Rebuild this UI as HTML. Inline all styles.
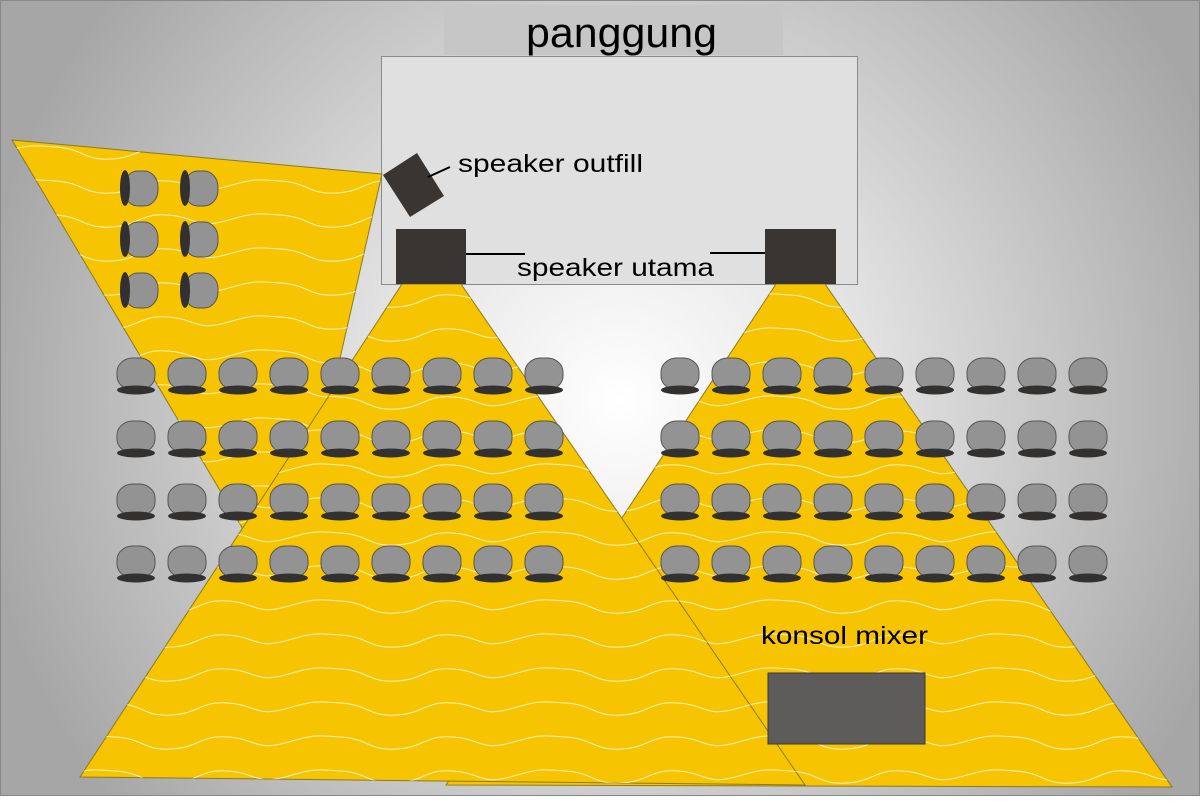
<!DOCTYPE html>
<html><head><meta charset="utf-8"><style>
html,body{margin:0;padding:0;}
body{width:1200px;height:796px;overflow:hidden;}
svg text{font-family:"Liberation Sans",sans-serif;fill:#000;}
</style></head><body>
<svg width="1200" height="796" viewBox="0 0 1200 796" xmlns="http://www.w3.org/2000/svg">
<defs>
<radialGradient id="bg" cx="620" cy="400" r="650" gradientUnits="userSpaceOnUse">
<stop offset="0" stop-color="#ffffff"/>
<stop offset="0.35" stop-color="#e6e6e6"/>
<stop offset="1" stop-color="#a6a6a6"/>
</radialGradient>
<pattern id="wv" width="225" height="34" patternUnits="userSpaceOnUse">
<path d="M0 17 C28 9 28 9 56 11 C84 13 84 25 112 23 C140 21 140 9 168 11 C196 13 196 25 225 17" fill="none" stroke="#fff" stroke-width="1" opacity="0.75"/>
</pattern>
<pattern id="wv2" width="225" height="34" patternUnits="userSpaceOnUse" patternTransform="translate(60,12)">
<path d="M0 17 C28 9 28 9 56 11 C84 13 84 25 112 23 C140 21 140 9 168 11 C196 13 196 25 225 17" fill="none" stroke="#fff" stroke-width="1" opacity="0.75"/>
</pattern>
<g id="seat">
<rect x="-19" y="0" width="38" height="32" rx="16" ry="14" fill="#939393" stroke="#555" stroke-width="1"/>
<ellipse cx="0" cy="32" rx="19" ry="4.5" fill="#333030"/>
</g>
<g id="seatL">
<rect x="0" y="-17" width="34" height="35" rx="14" ry="16" fill="#939393" stroke="#555" stroke-width="1"/>
<ellipse cx="1" cy="0" rx="5" ry="18" fill="#333030"/>
</g>
</defs>
<rect width="1200" height="796" fill="url(#bg)"/>
<rect x="0.5" y="0.5" width="1199" height="795" fill="none" stroke="#888" stroke-width="1"/>

<rect x="444" y="5" width="339" height="50" fill="#c6c6c6"/>
<text x="526" y="47" font-size="42" textLength="191" lengthAdjust="spacingAndGlyphs">panggung</text>
<rect x="381.5" y="56.5" width="476" height="228" fill="#e0e0e0" stroke="#8a8a8a" stroke-width="1"/>

<polygon points="776,284 825,284 1172,787 446,785" fill="#f6c400" stroke="#8a7a20" stroke-width="1"/>
<polygon points="776,284 825,284 1172,787 446,785" fill="url(#wv2)"/>
<polygon points="12,140 382,174 285,600" fill="#f6c400" stroke="#8a7a20" stroke-width="1"/>
<polygon points="12,140 382,174 285,600" fill="url(#wv)"/>
<polygon points="402,284 461,284 805,785 80,777" fill="#f6c400" stroke="#8a7a20" stroke-width="1"/>
<polygon points="402,284 461,284 805,785 80,777" fill="url(#wv2)"/>

<polygon points="417,153 444,196 410,217 383,175" fill="#383533"/>
<line x1="428" y1="177" x2="450" y2="167" stroke="#000" stroke-width="2"/>
<text x="458" y="172" font-size="25" textLength="185" lengthAdjust="spacingAndGlyphs">speaker outfill</text>
<rect x="396" y="229" width="70" height="55" fill="#383533"/>
<rect x="765" y="229" width="71" height="55" fill="#383533"/>
<line x1="466" y1="254" x2="525" y2="254" stroke="#000" stroke-width="2"/>
<line x1="710" y1="253" x2="765" y2="253" stroke="#000" stroke-width="2"/>
<text x="517" y="276" font-size="25" textLength="197" lengthAdjust="spacingAndGlyphs">speaker utama</text>

<use href="#seatL" x="124" y="188"/><use href="#seatL" x="184" y="188"/>
<use href="#seatL" x="124" y="239"/><use href="#seatL" x="184" y="239"/>
<use href="#seatL" x="124" y="290"/><use href="#seatL" x="184" y="290"/>

<g id="lg">
<g id="row">
<use href="#seat" x="136" y="358"/><use href="#seat" x="187" y="358"/><use href="#seat" x="238" y="358"/>
<use href="#seat" x="289" y="358"/><use href="#seat" x="340" y="358"/><use href="#seat" x="391" y="358"/>
<use href="#seat" x="442" y="358"/><use href="#seat" x="493" y="358"/><use href="#seat" x="544" y="358"/>
</g>
<use href="#row" y="63"/><use href="#row" y="126"/><use href="#row" y="188"/>
</g>
<use href="#lg" x="544"/>

<text x="761" y="644" font-size="25" textLength="167" lengthAdjust="spacingAndGlyphs">konsol mixer</text>
<rect x="768" y="673" width="157" height="71" fill="#5e5c5a" stroke="#3a3a3a" stroke-width="1"/>
</svg>
</body></html>
